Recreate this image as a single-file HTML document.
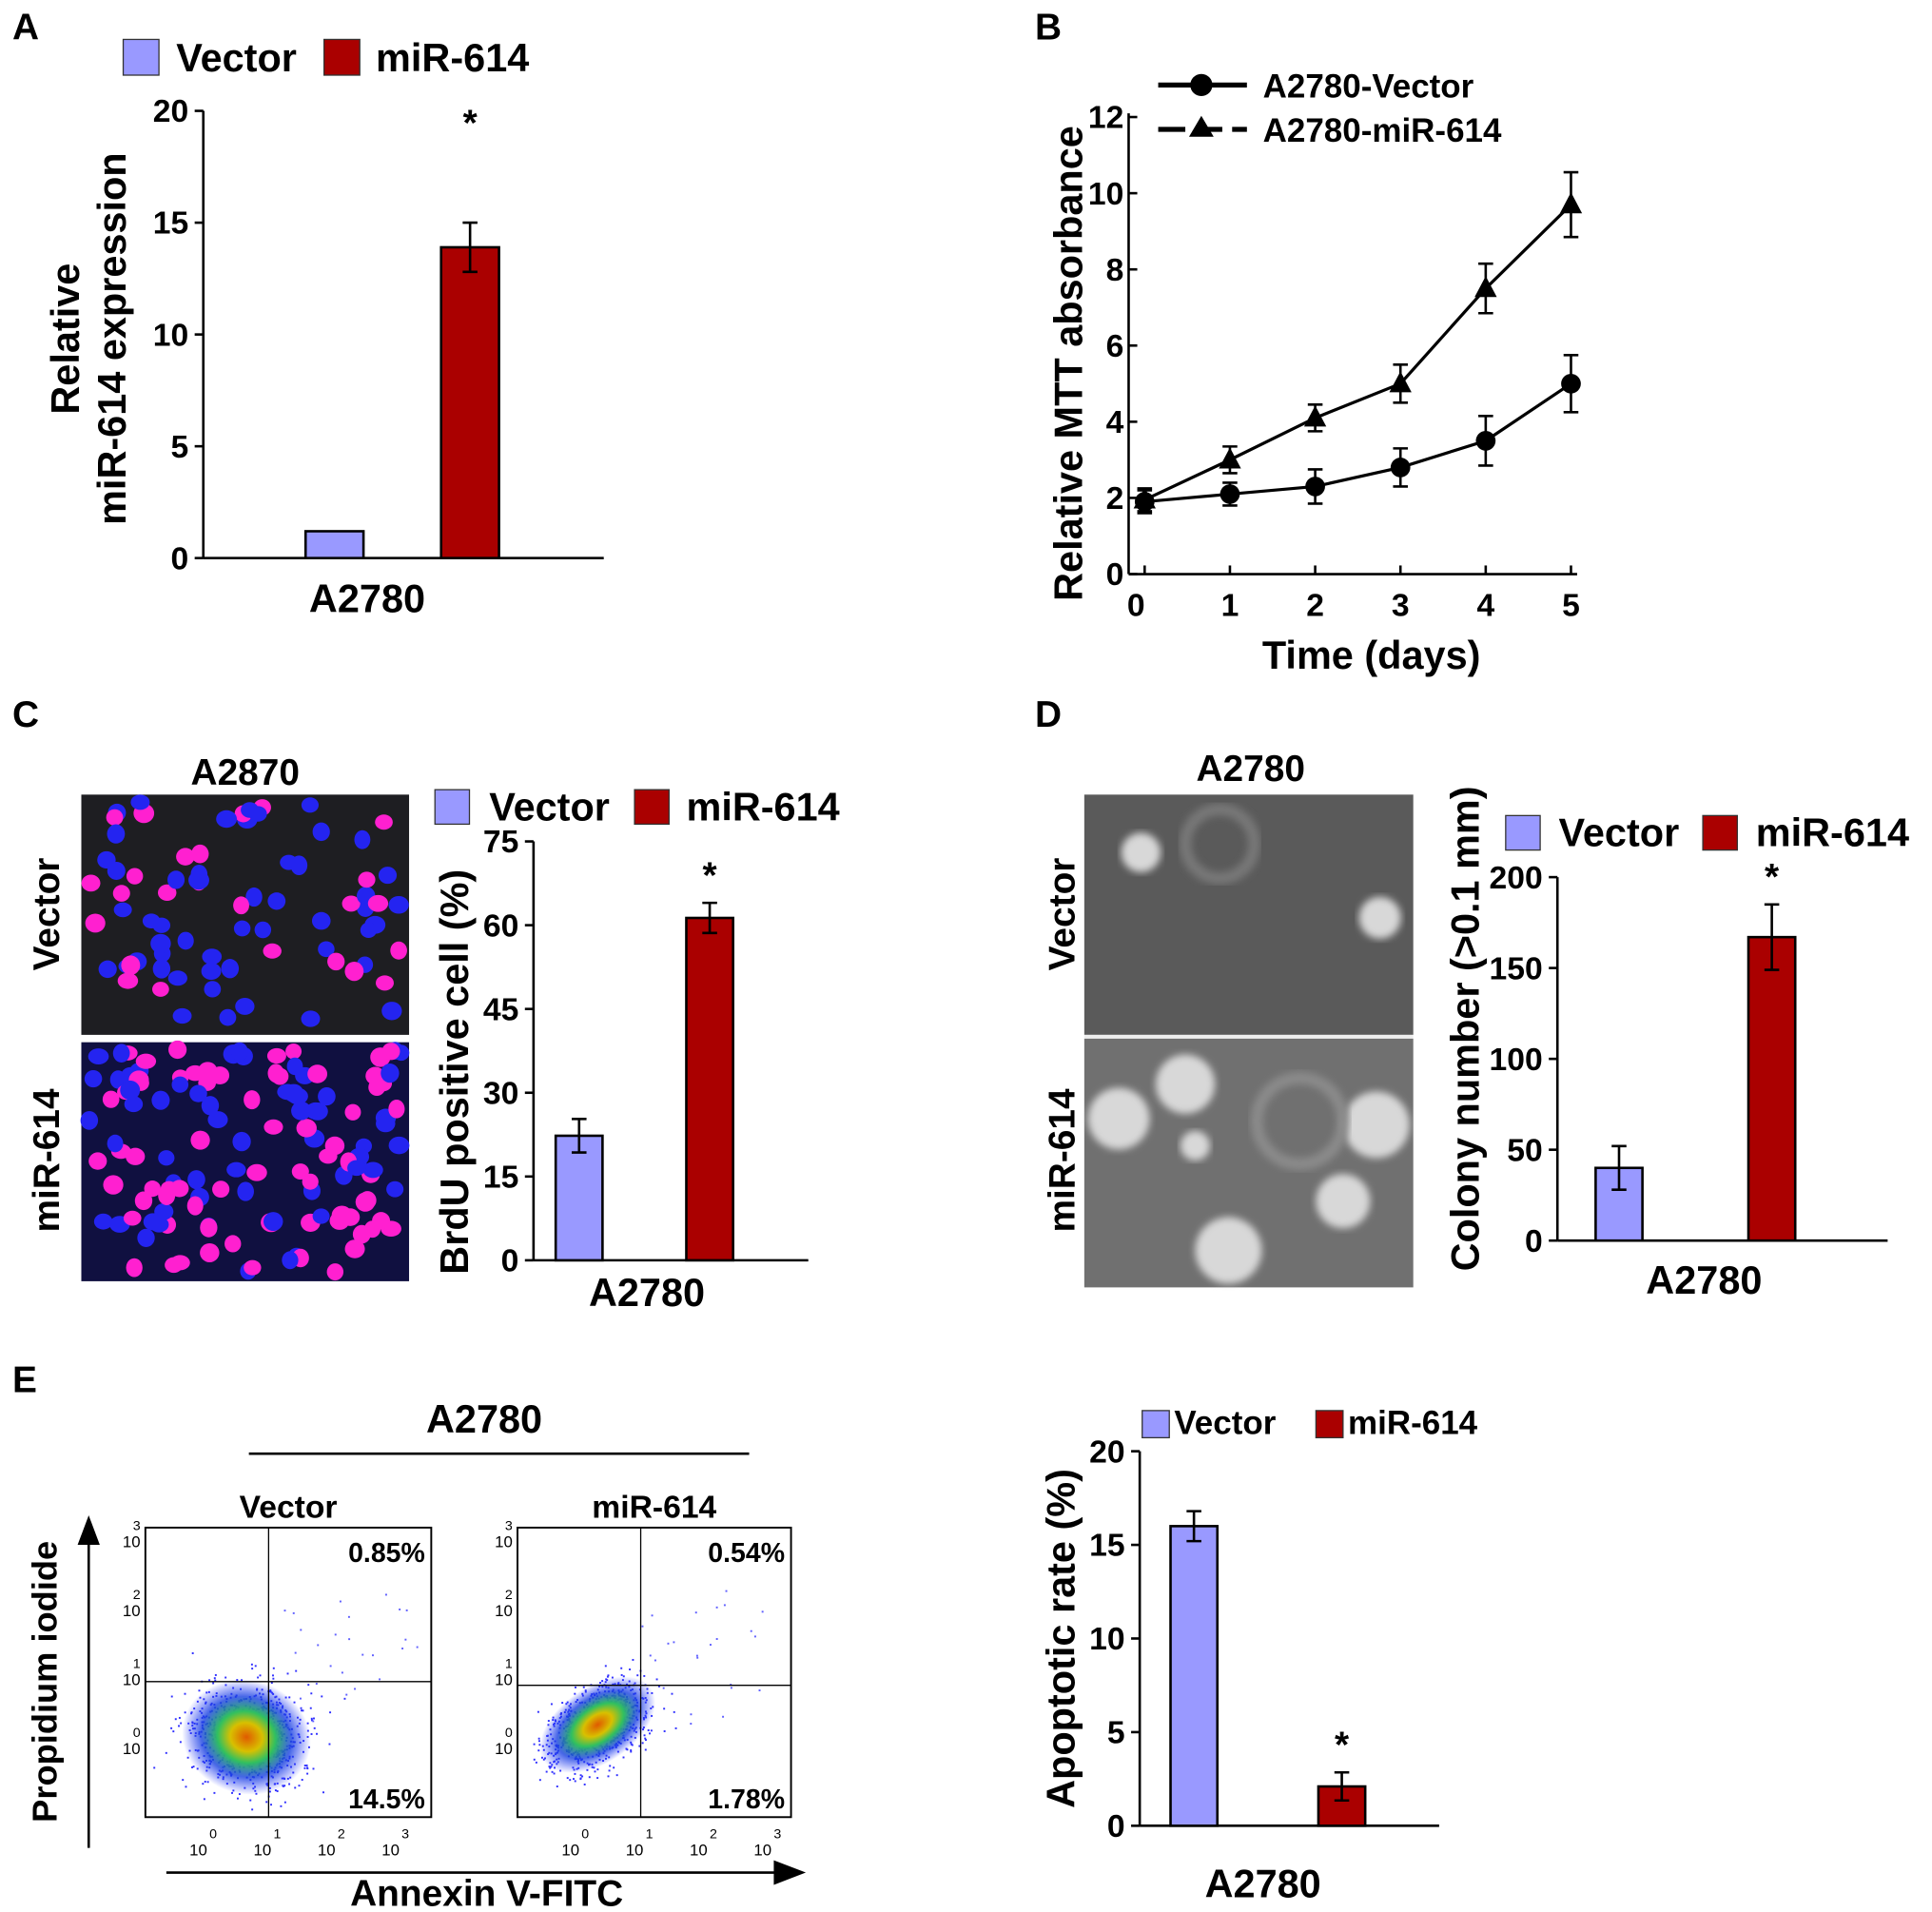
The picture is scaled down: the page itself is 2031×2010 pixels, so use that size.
<!DOCTYPE html>
<html><head><meta charset="utf-8">
<style>
html,body{margin:0;padding:0;background:#fff;}
svg{display:block;font-family:"Liberation Sans",Arial,sans-serif;}
</style></head>
<body>
<svg id="fig" width="2031" height="2010" viewBox="0 0 1568 1552" preserveAspectRatio="none" xmlns="http://www.w3.org/2000/svg">
<defs>
<radialGradient id="heat" cx="50%" cy="50%" r="50%">
<stop offset="0" stop-color="#e05a00"/><stop offset="0.25" stop-color="#d8c000"/><stop offset="0.45" stop-color="#30c060"/><stop offset="0.7" stop-color="#1840e0" stop-opacity="0.8"/><stop offset="1" stop-color="#2030ff" stop-opacity="0"/>
</radialGradient>
<filter id="blur"><feGaussianBlur stdDeviation="3"/></filter>
</defs>
<g font-weight="bold" font-size="30" fill="#000">
<text x="10" y="32">A</text>
<text x="840" y="32">B</text>
<text x="10" y="590">C</text>
<text x="840" y="590">D</text>
<text x="10" y="1130">E</text>
</g>
<g id="gA"></g>
<g id="gB"></g>
<g id="gC"></g>
<g id="gD"></g>
<g id="gE"></g>
<g id="imgs"></g>
<g id="flow"></g>
</svg>
<script>
// ---- data ----
const barGroups = ['Vector','miR-614'];
const aValues = [1.2, 13.9];
const aErrors = [0, 1.1];
const aTicks = [0,5,10,15,20];
const bDays = [0,1,2,3,4,5];
const bVector = [1.9,2.1,2.3,2.8,3.5,5.0];
const bVectorErr = [0.3,0.3,0.45,0.5,0.65,0.75];
const bMir = [1.95,3.0,4.1,5.0,7.5,9.7];
const bMirErr = [0.3,0.35,0.35,0.5,0.65,0.85];
const bYTicks = [0,2,4,6,8,10,12];
const cValues = [22.3, 61.3];
const cErrors = [3, 2.7];
const cTicks = [0,15,30,45,60,75];
const dValues = [40, 167];
const dErrors = [12, 18];
const dTicks = [0,50,100,150,200];
const eValues = [16, 2.1];
const eErrors = [0.8, 0.75];
const eTicks = [0,5,10,15,20];

const NS='http://www.w3.org/2000/svg';
function mk(parent,tag,attrs,txt){const e=document.createElementNS(NS,tag);for(const k in attrs)e.setAttribute(k,attrs[k]);if(txt!==undefined)e.textContent=txt;parent.appendChild(e);return e;}
const COLS=['#9999ff','#aa0000'];

function barChart(g,o){
  const y=v=>o.y0-(v-o.tmin)/(o.tmax-o.tmin)*(o.y0-o.y1);
  let e;
  e=mk(g,'line',{x1:o.ax,y1:o.y1,x2:o.ax,y2:o.y0,stroke:'#000','stroke-width':2});
  
  
  e=mk(g,'line',{x1:o.ax,y1:o.y0,x2:o.axEnd,y2:o.y0,stroke:'#000','stroke-width':2});
  
  
  o.ticks.forEach(t=>{
    mk(g,'line',{x1:o.ax-7,y1:y(t),x2:o.ax,y2:y(t),stroke:'#000','stroke-width':2});
    e=mk(g,'text',{x:o.ax-12,y:y(t)+9,'text-anchor':'end','font-size':o.tf,'font-weight':'bold'},t);
    
    
  });
  o.vals.forEach((v,i)=>{
    e=mk(g,'rect',{x:o.bx[i],y:y(v),width:o.bw,height:o.y0-y(v),fill:COLS[i],stroke:'#000','stroke-width':2});
    
    
    const er=o.errs[i];
    if(er>0){const cx=o.bx[i]+o.bw/2;
      mk(g,'path',{d:`M${cx} ${y(v+er)}V${y(v-er)}M${cx-6} ${y(v+er)}H${cx+6}M${cx-6} ${y(v-er)}H${cx+6}`,stroke:'#000','stroke-width':2,fill:'none'});}
  });
  const si=o.star, sv=o.vals[si]+o.errs[si];
  e=mk(g,'text',{x:o.bx[si]+o.bw/2,y:o.starY!==undefined?o.starY:y(sv)-12,'text-anchor':'middle','font-size':30,'font-weight':'bold'},'*');
  
  
  e=mk(g,'text',{x:o.xlx,y:o.xly,'text-anchor':'middle','font-size':32,'font-weight':'bold'},'A2780');
  
  
  const tg=mk(g,'text',{transform:`translate(${o.ytx},${o.yty}) rotate(-90)`,'text-anchor':'middle','font-size':o.ytf||32,'font-weight':'bold'});
  
  
  o.ytitle.forEach((l,k)=>{mk(tg,'tspan',{x:0,dy:k?38:0},l);});
  const L=o.leg;
  barGroups.forEach((n,i)=>{
    e=mk(g,'rect',{x:L.sx[i],y:L.y,width:L.s,height:L.s,fill:COLS[i],stroke:'#333','stroke-width':1});
    
    
    e=mk(g,'text',{x:L.tx[i],y:L.y+L.s-3,'font-size':L.f,'font-weight':'bold'},n);
    
    
  });
}
barChart(document.getElementById('gA'),{ax:165,axEnd:490,y0:453,y1:90,tmin:0,tmax:20,ticks:aTicks,tf:26,vals:aValues,errs:aErrors,bx:[248,358],bw:47,star:1,starY:110,xlx:298,xly:497,ytx:64,yty:275,ytitle:['Relative','miR-614 expression'],leg:{sx:[100,263],tx:[143,305],y:32,s:29,f:32}});
barChart(document.getElementById('gC'),{ax:433,axEnd:656,y0:1023,y1:683,tmin:0,tmax:75,ticks:cTicks,tf:26,vals:cValues,errs:cErrors,bx:[451,557],bw:38,star:1,xlx:525,xly:1060,ytx:380,yty:870,ytitle:['BrdU positive cell (%)'],leg:{sx:[353,515],tx:[397,557],y:641,s:28,f:32}});
barChart(document.getElementById('gD'),{ax:1264,axEnd:1532,y0:1007,y1:712,tmin:0,tmax:200,ticks:dTicks,tf:26,vals:dValues,errs:dErrors,bx:[1295,1419],bw:38,star:1,xlx:1383,xly:1050,ytx:1200,yty:835,ytitle:['Colony number (>0.1 mm)'],leg:{sx:[1222,1382],tx:[1265,1425],y:662,s:28,f:32}});
barChart(document.getElementById('gE'),{ax:925,axEnd:1168,y0:1482,y1:1178,tmin:0,tmax:20,ticks:eTicks,tf:26,vals:eValues,errs:eErrors,bx:[950,1070],bw:38,star:1,xlx:1025,xly:1540,ytx:872,yty:1330,ytitle:['Apoptotic rate (%)'],leg:{sx:[927,1068],tx:[953,1094],y:1145,s:22,f:27}});

// Panel B line chart
(function(){
  const g=document.getElementById('gB');
  const x=d=>929+69.2*d, y=v=>466-v/12*(466-95);
  let e;
  e=mk(g,'line',{x1:916,y1:92,x2:916,y2:466,stroke:'#000','stroke-width':2});
  
  
  e=mk(g,'line',{x1:916,y1:466,x2:1280,y2:466,stroke:'#000','stroke-width':2});
  
  
  bYTicks.forEach(t=>{mk(g,'line',{x1:916,y1:y(t),x2:923,y2:y(t),stroke:'#000','stroke-width':2});
    e=mk(g,'text',{x:912,y:y(t)+9,'text-anchor':'end','font-size':26,'font-weight':'bold'},t);
    
    });
  bDays.forEach(d=>{mk(g,'line',{x1:x(d),y1:466,x2:x(d),y2:459,stroke:'#000','stroke-width':2});
    e=mk(g,'text',{x:x(d)-(d==0?7:0),y:500,'text-anchor':'middle','font-size':26,'font-weight':'bold'},d);
    
    });
  function series(vals,errs,name,tri){
    const sg=mk(g,'g',{});
    
    
    mk(sg,'polyline',{points:vals.map((v,i)=>x(bDays[i])+','+y(v)).join(' '),fill:'none',stroke:'#000','stroke-width':2.5});
    vals.forEach((v,i)=>{const cx=x(bDays[i]),er=errs[i];
      mk(sg,'path',{d:`M${cx} ${y(v+er)}V${y(v-er)}M${cx-6} ${y(v+er)}H${cx+6}M${cx-6} ${y(v-er)}H${cx+6}`,stroke:'#000','stroke-width':2,fill:'none'});
      if(tri) mk(sg,'path',{d:`M${cx} ${y(v)-10}L${cx+9} ${y(v)+7}H${cx-9}Z`,fill:'#000'});
      else mk(sg,'circle',{cx:cx,cy:y(v),r:8,fill:'#000'});
    });
  }
  series(bVector,bVectorErr,'series-a2780-vector',false);
  series(bMir,bMirErr,'series-a2780-mir614',true);
  e=mk(g,'text',{x:1113,y:543,'text-anchor':'middle','font-size':32,'font-weight':'bold'},'Time (days)');
  
  
  e=mk(g,'text',{transform:'translate(878,295) rotate(-90)','text-anchor':'middle','font-size':32,'font-weight':'bold'},'Relative MTT absorbance');
  
  
  mk(g,'line',{x1:940,y1:69,x2:1012,y2:69,stroke:'#000','stroke-width':4});
  mk(g,'circle',{cx:975,cy:69,r:9,fill:'#000'});
  e=mk(g,'text',{x:1025,y:79,'font-size':27,'font-weight':'bold'},'A2780-Vector');
  
  
  mk(g,'line',{x1:940,y1:105,x2:1012,y2:105,stroke:'#000','stroke-width':4,'stroke-dasharray':'22 8'});
  mk(g,'path',{d:'M975 94L985 111H965Z',fill:'#000'});
  e=mk(g,'text',{x:1025,y:115,'font-size':27,'font-weight':'bold'},'A2780-miR-614');
  
  
})();

// micrographs
(function(){
  const g=document.getElementById('imgs');
  let s=7;const r=()=>{s=(s*9301+49297)%233280;return s/233280;};
  let e;
  function fluo(y0,h,n,pm,nm,bg){
    const rg=mk(g,'g',{});
    
    
    mk(rg,'rect',{x:66,y:y0,width:266,height:h,fill:bg});
    for(let i=0;i<n;i++){const cx=72+r()*254,cy=y0+6+r()*(h-12);
      mk(rg,'ellipse',{cx:cx,cy:cy,rx:6.5+r()*2,ry:6+r()*2,fill:r()<pm?'#ff20d0':'#2424f0'});}
  }
  fluo(645,195,75,0.3,'image-c-vector','#1e1e22');
  fluo(846,194,130,0.5,'image-c-mir614','#101040');
  mk(g,'line',{x1:66,y1:843,x2:332,y2:843,stroke:'#fff','stroke-width':3});
  const ph=mk(g,'g',{});
  
  
  mk(ph,'rect',{x:880,y:645,width:267,height:195,fill:'#5a5a5a'});
  mk(ph,'rect',{x:880,y:843,width:267,height:202,fill:'#707070'});
  mk(ph,'line',{x1:880,y1:841.5,x2:1147,y2:841.5,stroke:'#eee','stroke-width':3});
  mk(ph,'circle',{cx:990,cy:685,r:28,fill:'none',stroke:'#777','stroke-width':10,filter:'url(#blur)'});
  [[926,692,16],[1120,745,17],[908,908,25],[962,880,24],[1117,913,27],[1090,975,22],[997,1015,27],[970,930,12]].forEach(c=>mk(ph,'circle',{cx:c[0],cy:c[1],r:c[2],fill:'#d8d8d8',filter:'url(#blur)'}));
  mk(ph,'circle',{cx:1055,cy:910,r:35,fill:'none',stroke:'#8a8a8a','stroke-width':10,filter:'url(#blur)'});
  [[199,637,'A2870'],[1015,634,'A2780']].forEach(l=>{e=mk(g,'text',{x:l[0],y:l[1],'text-anchor':'middle','font-size':30,'font-weight':'bold'},l[2]);
    
    });
  [[48,742,'Vector'],[48,942,'miR-614'],[872,742,'Vector'],[872,942,'miR-614']].forEach(l=>{
    e=mk(g,'text',{transform:`translate(${l[0]},${l[1]}) rotate(-90)`,'text-anchor':'middle','font-size':30,'font-weight':'bold'},l[2]);
    
    });
})();

// flow cytometry
(function(){
  const g=document.getElementById('flow');
  let s=11;const r=()=>{s=(s*9301+49297)%233280;return s/233280;};
  const gs=()=>{let u=0;for(let i=0;i<4;i++)u+=r();return (u-2)/0.58;};
  let e;
  e=mk(g,'text',{x:393,y:1163,'text-anchor':'middle','font-size':32,'font-weight':'bold'},'A2780');
  
  
  mk(g,'line',{x1:202,y1:1180,x2:608,y2:1180,stroke:'#000','stroke-width':2});
  function plot(bx,bw,qx,qy,cx,cy,rot,sx,sy,name,ul,lr,title){
    const pg=mk(g,'g',{});
    
    
    for(let i=0;i<900;i++){const a=gs()*sx,b=gs()*sy,c=Math.cos(rot),d=Math.sin(rot);
      const px=cx+a*c-b*d,py=cy+a*d+b*c;
      if(px>bx&&px<bx+bw&&py>1242&&py<1473) mk(pg,'rect',{x:px,y:py,width:1.5,height:1.5,fill:'#3030ff'});}
    for(let i=0;i<25;i++){mk(pg,'rect',{x:bx+bw*0.45+r()*bw*0.5,y:1290+r()*110,width:1.5,height:1.5,fill:'#6060ff'});}
    mk(pg,'ellipse',{cx:cx,cy:cy,rx:sx*2.2,ry:sy*2.2,fill:'url(#heat)',transform:`rotate(${rot*57.3} ${cx} ${cy})`});
    mk(pg,'rect',{x:bx,y:1240,width:bw,height:235,fill:'none',stroke:'#000','stroke-width':1.5});
    mk(pg,'line',{x1:qx,y1:1240,x2:qx,y2:1475,stroke:'#000','stroke-width':1});
    mk(pg,'line',{x1:bx,y1:qy,x2:bx+bw,y2:qy,stroke:'#000','stroke-width':1});
    mk(pg,'text',{x:bx+bw-5,y:1268,'text-anchor':'end','font-size':22,'font-weight':'bold'},ul);
    mk(pg,'text',{x:bx+bw-5,y:1468,'text-anchor':'end','font-size':22,'font-weight':'bold'},lr);
    mk(pg,'text',{x:bx+bw/2,y:1232,'text-anchor':'middle','font-size':26,'font-weight':'bold'},title);
    [0,1,2,3].forEach(k=>{const yy=1420-k*56, xx=bx+55+k*52;
      mk(pg,'text',{x:bx-4,y:yy+4,'text-anchor':'end','font-size':13},'10');
      mk(pg,'text',{x:bx-4,y:yy-10,'font-size':11,'text-anchor':'end'},k);
      mk(pg,'text',{x:xx-12,y:1506,'text-anchor':'middle','font-size':13},'10');
      mk(pg,'text',{x:xx,y:1492,'font-size':11,'text-anchor':'middle'},k);});
  }
  plot(118,232,218,1365,200,1410,0.3,24,21,'flow-plot-vector','0.85%','14.5%','Vector');
  plot(420,222,520,1368,485,1400,-0.6,24,14,'flow-plot-mir614','0.54%','1.78%','miR-614');
  mk(g,'line',{x1:72,y1:1500,x2:72,y2:1248,stroke:'#000','stroke-width':2});
  mk(g,'path',{d:'M72 1230L81 1254H63Z',fill:'#000'});
  mk(g,'line',{x1:135,y1:1520,x2:632,y2:1520,stroke:'#000','stroke-width':2});
  mk(g,'path',{d:'M654 1520L628 1510V1530Z',fill:'#000'});
  e=mk(g,'text',{transform:'translate(46,1365) rotate(-90)','text-anchor':'middle','font-size':28,'font-weight':'bold'},'Propidium iodide');
  
  
  e=mk(g,'text',{x:395,y:1547,'text-anchor':'middle','font-size':30,'font-weight':'bold'},'Annexin V-FITC');
  
  
})();
</script>
</body></html>
